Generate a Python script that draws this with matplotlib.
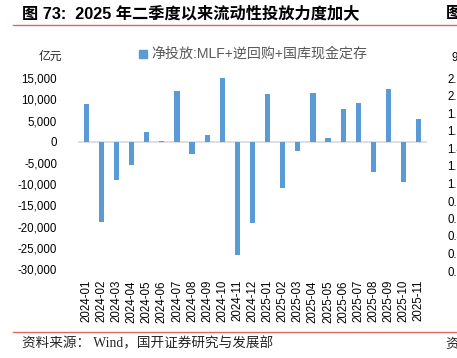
import numpy as np
import matplotlib
matplotlib.use('Agg')
import matplotlib.pyplot as plt
from matplotlib.patches import Rectangle
from matplotlib.lines import Line2D
from matplotlib.ticker import FuncFormatter

# 月份与净投放（亿元）
months = ['2024-01', '2024-02', '2024-03', '2024-04', '2024-05', '2024-06',
          '2024-07', '2024-08', '2024-09', '2024-10', '2024-11', '2024-12',
          '2025-01', '2025-02', '2025-03', '2025-04', '2025-05', '2025-06',
          '2025-07', '2025-08', '2025-09', '2025-10', '2025-11']
net_injection = [9000, -18800, -8900, -5400, 2400, 200,
                 12000, -2900, 1600, 15100, -26600, -19200,
                 11300, -10800, -2200, 11400, 1000, 7700,
                 9100, -7200, 12400, -9400, 5300]
yticks = [15000, 10000, 5000, 0, -5000, -10000, -15000, -20000, -25000, -30000]
# 右侧被裁切的相邻图表刻度
cut_ticks = ['2.2', '2.0', '1.8', '1.6', '1.4', '1.2', '1.0', '0.8', '0.6', '0.4', '0.2', '0.0']

W, H = 457, 358
sans = ['Liberation Sans', 'Noto Sans CJK SC']
cjk = ['Noto Sans CJK SC', 'DejaVu Sans']
serif = ['Liberation Serif', 'Noto Sans CJK SC']

fig = plt.figure(figsize=(W / 100, H / 100), dpi=100)
ax = fig.add_axes([78 / W, 1 - 269 / H, (427 - 78) / W, (269 - 57) / H])

x = np.arange(len(months))
ax.bar(x, net_injection, width=0.34, color='#5B9BD5', zorder=3)
ax.axhline(0, color='#D9D9D9', lw=1.2, zorder=2)
ax.set_xlim(-0.55, len(months) - 0.45)
ax.set_ylim(-30000, 20000)
ax.set_yticks(yticks)
ax.yaxis.set_major_formatter(FuncFormatter(lambda v, p: f'{int(v):,}'))
ax.set_xticks(x)
ax.set_xticklabels(months, rotation=90)
for s in ax.spines.values():
    s.set_visible(False)
ax.tick_params(length=0, labelsize=8.3, colors='#000000', pad=4)
ax.tick_params(axis='y', pad=15)
ax.tick_params(axis='x', pad=8)
for lab in ax.get_xticklabels() + ax.get_yticklabels():
    lab.set_fontfamily(sans)

# 单位
fig.text(62 / W, 1 - 56 / H, '亿元', family=cjk, fontsize=8.5, color='#262626',
         ha='right', va='center')

# 图例
fig.patches.append(Rectangle((139 / W, 1 - 58 / H), 8 / W, 8 / H,
                             transform=fig.transFigure, color='#5B9BD5'))
fig.text(151 / W, 1 - 54 / H, '净投放:MLF+逆回购+国库现金定存', family=sans,
         fontsize=10.1, color='#595959', ha='left', va='center')

# 标题与红线
fig.text(22 / W, 1 - 13 / H, '图 73:  2025 年二季度以来流动性投放力度加大',
         family=sans, fontsize=11.7, fontweight='bold', ha='left', va='center')
fig.text(446 / W, 1 - 13 / H, '图', family=cjk, fontsize=11.7,
         fontweight='bold', ha='left', va='center')
fig.lines.append(Line2D([13 / W, 1], [1 - 24.5 / H] * 2, transform=fig.transFigure,
                        color='#E06666', lw=1.0))
fig.lines.append(Line2D([13 / W, 1], [1 - 332 / H] * 2, transform=fig.transFigure,
                        color='#E06666', lw=1.0))

# 资料来源
fig.text(22 / W, 1 - 344 / H, '资料来源： Wind，国开证券研究与发展部', family=serif,
         fontsize=9.8, color='#262626', ha='left', va='center')
fig.text(445 / W, 1 - 344 / H, '资', family=serif, fontsize=9.8, color='#262626',
         ha='left', va='center')

# 右侧相邻图表的裁切刻度
fig.text(452 / W, 1 - 58 / H, '9', family=sans, fontsize=8.3, ha='left', va='center')
for i, t in enumerate(cut_ticks):
    fig.text(447 / W, 1 - (80 + i * 17.5) / H, t, family=sans, fontsize=8.3,
             ha='left', va='center')

fig.savefig('out.png', dpi=100)
